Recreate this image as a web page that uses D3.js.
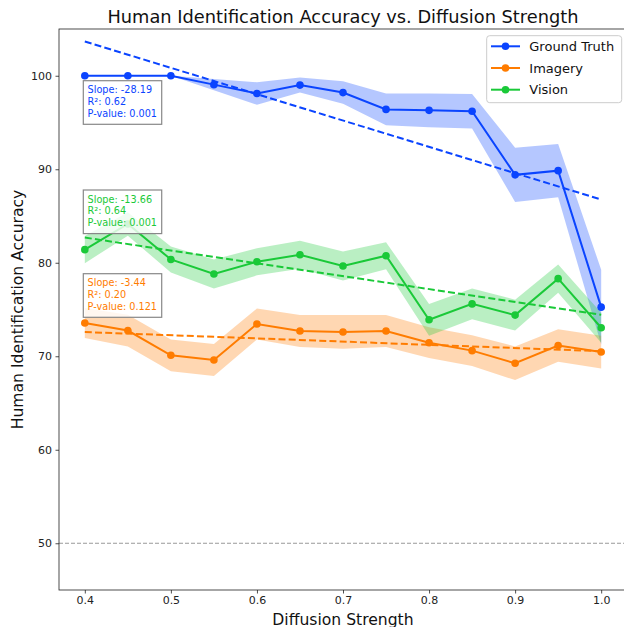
<!DOCTYPE html>
<html>
<head>
<meta charset="utf-8">
<script src="https://cdn.jsdelivr.net/npm/d3@7/dist/d3.min.js"></script>
<style>
  html, body { margin: 0; padding: 0; background: #fff; }
  svg { display: block; font-family: "DejaVu Sans", sans-serif; }
</style>
</head>
<body>
<svg id="chart" width="624" height="627"></svg>
<script>
// ---------------- data ----------------
const strengths = [0.4, 0.45, 0.5, 0.55, 0.6, 0.65, 0.7, 0.75, 0.8, 0.85, 0.9, 0.95, 1.0];
const seriesNames = ["Ground Truth", "Imagery", "Vision"];
const groundTruth = [100, 100, 100, 99.05, 98.1, 99.0, 98.2, 96.4, 96.3, 96.2, 89.4, 89.85, 75.25];
const groundTruthStd = [0, 0, 0, 0.6, 1.2, 0.8, 1.2, 1.7, 1.8, 1.85, 2.9, 2.85, 4.0];
const imagery = [73.55, 72.75, 70.1, 69.6, 73.45, 72.7, 72.6, 72.7, 71.45, 70.6, 69.25, 71.15, 70.45];
const imageryStd = [1.6, 1.7, 1.7, 1.7, 1.65, 1.7, 1.8, 1.7, 1.65, 1.65, 1.8, 1.75, 1.75];
const vision = [81.4, 84.15, 80.35, 78.8, 80.1, 80.85, 79.65, 80.75, 73.9, 75.6, 74.4, 78.3, 73.05];
const visionStd = [1.45, 1.25, 1.4, 1.55, 1.45, 1.5, 1.55, 1.45, 1.7, 1.65, 1.65, 1.5, 1.6];
const statSlope = ["-28.19", "-3.44", "-13.66"];
const statR2 = ["0.62", "0.20", "0.64"];
const statP = ["0.001", "0.121", "0.001"];
const yTicks = [50, 60, 70, 80, 90, 100];
const xTicks = [0.4, 0.5, 0.6, 0.7, 0.8, 0.9, 1.0];
const chanceLevel = 50;
const colors = ["#0a44ff", "#ff7c00", "#1ac938"];

// ---------------- layout ----------------
const svg = d3.select("#chart");
const L = 59, R = 627, T = 29, B = 590;
const x = d3.scaleLinear().domain([0.37, 1.03]).range([L, R]);
const y = d3.scaleLinear().domain([45, 105]).range([B, T]);

const series = [
  { name: seriesNames[0], mean: groundTruth, std: groundTruthStd, color: colors[0] },
  { name: seriesNames[1], mean: imagery, std: imageryStd, color: colors[1] },
  { name: seriesNames[2], mean: vision, std: visionStd, color: colors[2] }
];

const defs = svg.append("defs");
defs.append("clipPath").attr("id", "clip").append("rect")
  .attr("x", L).attr("y", T).attr("width", R - L).attr("height", B - T);

const plot = svg.append("g").attr("clip-path", "url(#clip)");

// chance line
plot.append("line")
  .attr("x1", L).attr("x2", R)
  .attr("y1", y(chanceLevel)).attr("y2", y(chanceLevel))
  .attr("stroke", "#999").attr("stroke-width", 1)
  .attr("stroke-dasharray", "4,2");

// linear regression
function fit(xs, ys) {
  const n = xs.length;
  const mx = d3.mean(xs), my = d3.mean(ys);
  let sxy = 0, sxx = 0;
  for (let i = 0; i < n; i++) { sxy += (xs[i] - mx) * (ys[i] - my); sxx += (xs[i] - mx) ** 2; }
  const b = sxy / sxx;
  return { slope: b, intercept: my - b * mx };
}

const area = d3.area()
  .x((d, i) => x(strengths[i]))
  .y0(d => y(d[0] - d[1]))
  .y1(d => y(d[0] + d[1]));
const line = d3.line().x((d, i) => x(strengths[i])).y(d => y(d));

series.forEach(s => {
  const pairs = s.mean.map((m, i) => [m, s.std[i]]);
  plot.append("path").datum(pairs)
    .attr("d", area).attr("fill", s.color).attr("fill-opacity", 0.3).attr("stroke", "none");
});

series.forEach(s => {
  plot.append("path").datum(s.mean)
    .attr("d", line).attr("fill", "none").attr("stroke", s.color).attr("stroke-width", 2);
  plot.selectAll(null).data(s.mean).enter().append("circle")
    .attr("cx", (d, i) => x(strengths[i])).attr("cy", d => y(d))
    .attr("r", 3.8).attr("fill", s.color);
  const f = fit(strengths, s.mean);
  const x0 = strengths[0], x1 = strengths[strengths.length - 1];
  plot.append("line")
    .attr("x1", x(x0)).attr("y1", y(f.intercept + f.slope * x0))
    .attr("x2", x(x1)).attr("y2", y(f.intercept + f.slope * x1))
    .attr("stroke", s.color).attr("stroke-width", 2)
    .attr("stroke-dasharray", "7,3.2");
});

// ---------------- axes ----------------
const xAxis = svg.append("g").attr("transform", `translate(0,${B})`)
  .call(d3.axisBottom(x).tickValues(xTicks).tickFormat(d3.format(".1f")).tickSizeOuter(0).tickSize(3.5).tickPadding(3));
const yAxis = svg.append("g").attr("transform", `translate(${L},0)`)
  .call(d3.axisLeft(y).tickValues(yTicks).tickFormat(d3.format("d")).tickSizeOuter(0).tickSize(3.5).tickPadding(3.5));
[xAxis, yAxis].forEach(a => {
  a.selectAll("text").attr("font-size", 11).attr("fill", "#222").attr("font-family", "DejaVu Sans");
  a.selectAll("line").attr("stroke", "#222").attr("stroke-width", 0.8);
  a.select(".domain").remove();
});

// spines
svg.append("rect").attr("x", L).attr("y", T).attr("width", R - L).attr("height", B - T)
  .attr("fill", "none").attr("stroke", "#222").attr("stroke-width", 0.8);

// labels
svg.append("text").attr("x", (L + R) / 2).attr("y", 22.5).attr("text-anchor", "middle")
  .attr("font-size", 17.8).attr("fill", "#111").text("Human Identification Accuracy vs. Diffusion Strength");
svg.append("text").attr("x", (L + R) / 2).attr("y", 624.5).attr("text-anchor", "middle")
  .attr("font-size", 15.6).attr("fill", "#111").text("Diffusion Strength");
svg.append("text").attr("transform", `translate(23,${(T + B) / 2}) rotate(-90)`).attr("text-anchor", "middle")
  .attr("font-size", 15.6).attr("fill", "#111").text("Human Identification Accuracy");

// ---------------- stat boxes ----------------
const boxTops = [80.7, 273.7, 190]; // GT, Imagery, Vision
series.forEach((s, k) => {
  const g = svg.append("g");
  const lines = [`Slope: ${statSlope[k]}`, `R²: ${statR2[k]}`, `P-value: ${statP[k]}`];
  const bx = 83.3, by = boxTops[k];
  const rect = g.append("rect");
  const texts = lines.map((t, i) => g.append("text")
    .attr("x", bx + 4.3).attr("y", by + 12.5 + i * 11.7)
    .attr("font-size", 9.7).attr("fill", s.color).text(t));
  let w = 0;
  texts.forEach(t => { w = Math.max(w, t.node().getComputedTextLength()); });
  rect.attr("x", bx).attr("y", by).attr("width", w + 9).attr("height", 43.6)
    .attr("fill", "#fff").attr("fill-opacity", 0.8)
    .attr("stroke", "#888").attr("stroke-width", 1.2);
});

// ---------------- legend ----------------
const lg = svg.append("g");
lg.append("rect").attr("x", 486.7).attr("y", 35.7).attr("width", 135).attr("height", 67)
  .attr("rx", 3).attr("fill", "#fff").attr("fill-opacity", 0.8)
  .attr("stroke", "#ccc").attr("stroke-width", 1);
series.forEach((s, i) => {
  const cy = 46.3 + i * 21.7;
  lg.append("line").attr("x1", 491).attr("x2", 520).attr("y1", cy).attr("y2", cy)
    .attr("stroke", s.color).attr("stroke-width", 2);
  lg.append("circle").attr("cx", 505.5).attr("cy", cy).attr("r", 3.8).attr("fill", s.color);
  lg.append("text").attr("x", 529.3).attr("y", cy + 4.6).attr("font-size", 13).attr("fill", "#111").text(s.name);
});
</script>
</body>
</html>
